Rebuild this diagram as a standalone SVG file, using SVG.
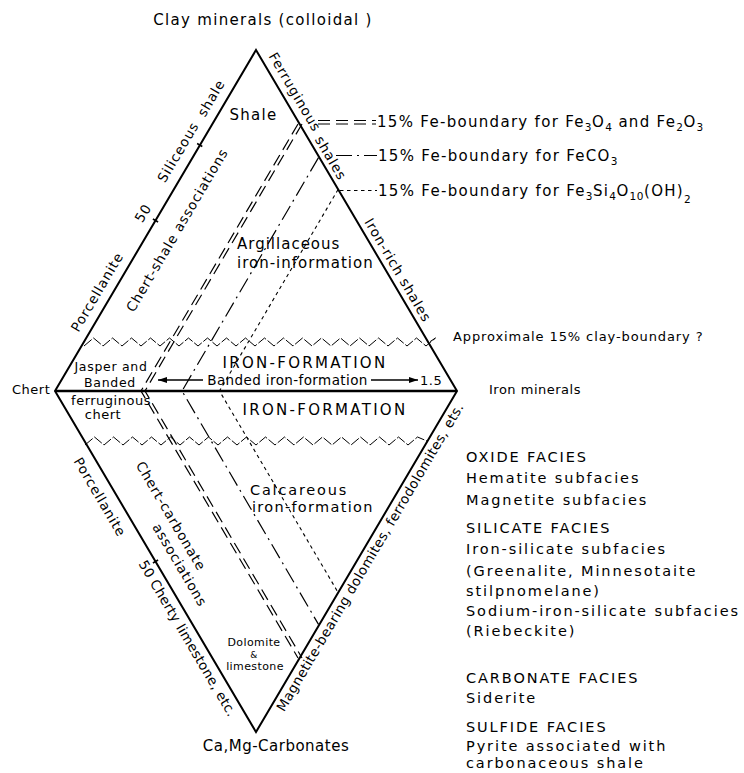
<svg xmlns="http://www.w3.org/2000/svg" width="744" height="773" viewBox="0 0 744 773">
<defs>
<style>
text { font-family: "DejaVu Sans", "Liberation Sans", sans-serif; fill: #000; }
.big { font-size: 15px; letter-spacing: 1px; }
.caps { font-size: 15px; letter-spacing: 2.3px; }
.rot { font-size: 13.5px; letter-spacing: 0.9px; }
.sm { font-size: 13px; letter-spacing: 0.5px; }
.xs { font-size: 11px; letter-spacing: 0.4px; }
.lbl { font-size: 15px; letter-spacing: 1.3px; }
.lg { font-size: 14.5px; letter-spacing: 1.9px; }
.sub { font-size: 10.5px; letter-spacing: 0.5px; }
.edge { stroke: #000; stroke-width: 2; fill: none; stroke-linejoin: miter; }
.base { stroke: #000; stroke-width: 2.5; fill: none; }
.tick { stroke: #000; stroke-width: 1.5; }
.dbl { stroke: #000; stroke-width: 1.2; fill: none; stroke-dasharray: 12 6; }
.dd { stroke: #000; stroke-width: 1.2; fill: none; stroke-dasharray: 16 5 2 5; }
.dot { stroke: #000; stroke-width: 1.1; fill: none; stroke-dasharray: 3.5 3.5; }
.zz { stroke: #000; stroke-width: 1; fill: none; stroke-dasharray: 10 2; }
.arr { stroke: #000; stroke-width: 1.3; fill: none; marker-end: url(#ah); }
</style>
<marker id="ah" markerUnits="userSpaceOnUse" markerWidth="10" markerHeight="6" refX="9" refY="3" orient="auto">
<path d="M0,0 L9,3 L0,6 z" fill="#000"/>
</marker>
</defs>
<rect x="0" y="0" width="744" height="773" fill="#fff"/>

<g id="frame">
<path class="edge" d="M256,50 L457,391 L256,732 L55,391 Z"/>
<path class="base" d="M55,391 L457,391"/>
<path class="tick" d="M152.9,219 L158.1,222 M197.1,143.5 L202.3,146.5 M152.9,563 L158.1,560"/>
</g>

<g id="connectors">
<g id="boundary-fe3o4">
<polyline class="dbl" points="298,124 141,391 298,658"/>
<polyline class="dbl" points="302,124 145,391 302,658"/>
<line class="dbl" x1="318" y1="120.5" x2="376" y2="120.5"/>
<line class="dbl" x1="318" y1="124" x2="376" y2="124"/>
</g>
<g id="boundary-feco3">
<polyline class="dd" points="318.5,157.6 182,391 318.5,624.4"/>
<line class="dd" x1="336" y1="155.5" x2="377" y2="155.5"/>
</g>
<g id="boundary-fe3si4">
<polyline class="dot" points="338.1,189.5 219.5,391 338.1,592.5"/>
<line class="dot" x1="340" y1="190.5" x2="377" y2="190.5"/>
</g>
<g id="clay-boundary">
<path class="zz" d="M84,346 l9.5,-8 l9.5,8 l9.5,-8 l9.5,8 l9.5,-8 l9.5,8 l9.5,-8 l9.5,8 l9.5,-8 l9.5,8 l9.5,-8 l9.5,8 l9.5,-8 l9.5,8 l9.5,-8 l9.5,8 l9.5,-8 l9.5,8 l9.5,-8 l9.5,8 l9.5,-8 l9.5,8 l9.5,-8 l9.5,8 l9.5,-8 l9.5,8 l9.5,-8 l9.5,8 l9.5,-8 l9.5,8 l9.5,-8 l9.5,8 l9.5,-8 l9.5,8 l9.5,-8 l9.5,8 l9.5,-8 L428,343"/>
<path class="zz" d="M85,445 l9.5,-8 l9.5,8 l9.5,-8 l9.5,8 l9.5,-8 l9.5,8 l9.5,-8 l9.5,8 l9.5,-8 l9.5,8 l9.5,-8 l9.5,8 l9.5,-8 l9.5,8 l9.5,-8 l9.5,8 l9.5,-8 l9.5,8 l9.5,-8 l9.5,8 l9.5,-8 l9.5,8 l9.5,-8 l9.5,8 l9.5,-8 l9.5,8 l9.5,-8 l9.5,8 l9.5,-8 l9.5,8 l9.5,-8 l9.5,8 l9.5,-8 l9.5,8 l9.5,-8 L427,441"/>
</g>
<g id="banded-arrow">
<line class="arr" x1="203" y1="380" x2="158" y2="380"/>
<line class="arr" x1="371" y1="380" x2="418" y2="380"/>
</g>
</g>

<g id="vertex-clay"><text class="big" x="263" y="25" text-anchor="middle" style="letter-spacing:1.3px">Clay minerals (colloidal )</text></g>
<g id="vertex-chert"><text class="sm" x="12" y="394">Chert</text></g>
<g id="vertex-iron"><text class="sm" x="489" y="394">Iron minerals</text></g>
<g id="vertex-carbonates"><text class="big" x="276" y="751" text-anchor="middle" style="letter-spacing:0.5px">Ca,Mg-Carbonates</text></g>

<g id="upper-left-edge">
<text class="rot" transform="translate(97,292) rotate(-59.5)" x="0" y="4.8" text-anchor="middle">Porcellanite</text>
<text class="rot" transform="translate(143,213) rotate(-59.5)" x="0" y="4.8" text-anchor="middle">50</text>
<text class="rot" transform="translate(178,152) rotate(-59.5)" x="0" y="4.8" text-anchor="middle">Siliceous</text>
<text class="rot" transform="translate(211,98) rotate(-59.5)" x="0" y="4.8" text-anchor="middle">shale</text>
<text class="rot" transform="translate(177,230) rotate(-59.5)" x="0" y="4.8" text-anchor="middle">Chert-shale associations</text>
</g>
<g id="upper-right-edge">
<text class="rot" transform="translate(295,92) rotate(59.5)" x="0" y="4.8" text-anchor="middle">Ferruginous</text>
<text class="rot" transform="translate(331,158) rotate(59.5)" x="0" y="4.8" text-anchor="middle">shales</text>
<text class="rot" transform="translate(398,270) rotate(59.5)" x="0" y="4.8" text-anchor="middle">Iron-rich shales</text>
</g>
<g id="lower-left-edge">
<text class="rot" transform="translate(100,497) rotate(59.5)" x="0" y="4.8" text-anchor="middle">Porcellanite</text>
<text class="rot" transform="translate(142.4,561.3) rotate(59.5)" x="0" y="4.8" style="letter-spacing:0.3px">50 Cherty limestone, etc.</text>
<text class="rot" transform="translate(171,516) rotate(59.5)" x="0" y="4.8" text-anchor="middle">Chert-carbonate</text>
<text class="rot" transform="translate(180,565) rotate(59.5)" x="0" y="4.8" text-anchor="middle">associations</text>
</g>
<g id="lower-right-edge">
<text class="rot" transform="translate(370,557) rotate(-59.5)" x="0" y="4.8" text-anchor="middle" style="letter-spacing:0.4px">Magnetite-bearing dolomites, ferrodolomites, ets.</text>
</g>

<g id="field-shale"><text class="big" x="253.5" y="120" text-anchor="middle" style="letter-spacing:1.3px">Shale</text></g>
<g id="field-argillaceous">
<text class="big" x="237" y="249">Argillaceous</text>
<text class="big" x="237" y="268">iron-information</text>
</g>
<g id="field-iron-formation-upper"><text class="caps" x="305" y="368" text-anchor="middle">IRON-FORMATION</text></g>
<g id="field-banded">
<text class="sm" x="287.5" y="385" text-anchor="middle" style="font-size:13.5px;letter-spacing:0.4px">Banded iron-formation</text>
<text class="sm" x="420" y="385">1.5</text>
</g>
<g id="field-jasper">
<text class="sm" x="111" y="371" text-anchor="middle" style="font-size:12.5px;letter-spacing:0.7px">Jasper and</text>
<text class="sm" x="110" y="386.5" text-anchor="middle" style="font-size:12.5px;letter-spacing:0.7px">Banded</text>
<text class="sm" x="111" y="405" text-anchor="middle">ferruginous</text>
<text class="sm" x="103" y="419" text-anchor="middle">chert</text>
</g>
<g id="field-iron-formation-lower"><text class="caps" x="325" y="415" text-anchor="middle">IRON-FORMATION</text></g>
<g id="field-calcareous">
<text class="big" x="250" y="495" style="font-size:14.5px;letter-spacing:1.8px">Calcareous</text>
<text class="big" x="252" y="512" style="font-size:14.5px;letter-spacing:1.3px">iron-formation</text>
</g>
<g id="field-dolomite">
<text class="xs" x="254" y="646" text-anchor="middle">Dolomite</text>
<text class="xs" x="254" y="657.5" text-anchor="middle" style="font-size:9px">&amp;</text>
<text class="xs" x="255" y="670" text-anchor="middle">limestone</text>
</g>

<g id="label-fe3o4"><text class="lbl" x="377" y="127">15% Fe-boundary for Fe<tspan class="sub" dy="4">3</tspan><tspan dy="-4">O</tspan><tspan class="sub" dy="4">4</tspan><tspan dy="-4"> and Fe</tspan><tspan class="sub" dy="4">2</tspan><tspan dy="-4">O</tspan><tspan class="sub" dy="4">3</tspan></text></g>
<g id="label-feco3"><text class="lbl" x="378" y="161">15% Fe-boundary for FeCO<tspan class="sub" dy="4">3</tspan></text></g>
<g id="label-fe3si4"><text class="lbl" x="378" y="196">15% Fe-boundary for Fe<tspan class="sub" dy="4">3</tspan><tspan dy="-4">Si</tspan><tspan class="sub" dy="4">4</tspan><tspan dy="-4">O</tspan><tspan class="sub" dy="4">10</tspan><tspan dy="-4">(OH)</tspan><tspan class="sub" dy="7">2</tspan></text></g>
<g id="label-clay-boundary"><text class="sm" x="453" y="341" style="letter-spacing:0.9px">Approximale 15% clay-boundary ?</text></g>

<g id="legend">
<text class="lg" x="466" y="462">OXIDE FACIES</text>
<text class="lg" x="466" y="483">Hematite subfacies</text>
<text class="lg" x="466" y="505">Magnetite subfacies</text>
<text class="lg" x="466" y="533">SILICATE FACIES</text>
<text class="lg" x="466" y="554">Iron-silicate subfacies</text>
<text class="lg" x="466" y="576">(Greenalite, Minnesotaite</text>
<text class="lg" x="466" y="596">stilpnomelane)</text>
<text class="lg" x="466" y="616">Sodium-iron-silicate subfacies</text>
<text class="lg" x="466" y="636">(Riebeckite)</text>
<text class="lg" x="466" y="683">CARBONATE FACIES</text>
<text class="lg" x="466" y="703">Siderite</text>
<text class="lg" x="466" y="732">SULFIDE FACIES</text>
<text class="lg" x="466" y="751">Pyrite associated with</text>
<text class="lg" x="466" y="768">carbonaceous shale</text>
</g>
</svg>
